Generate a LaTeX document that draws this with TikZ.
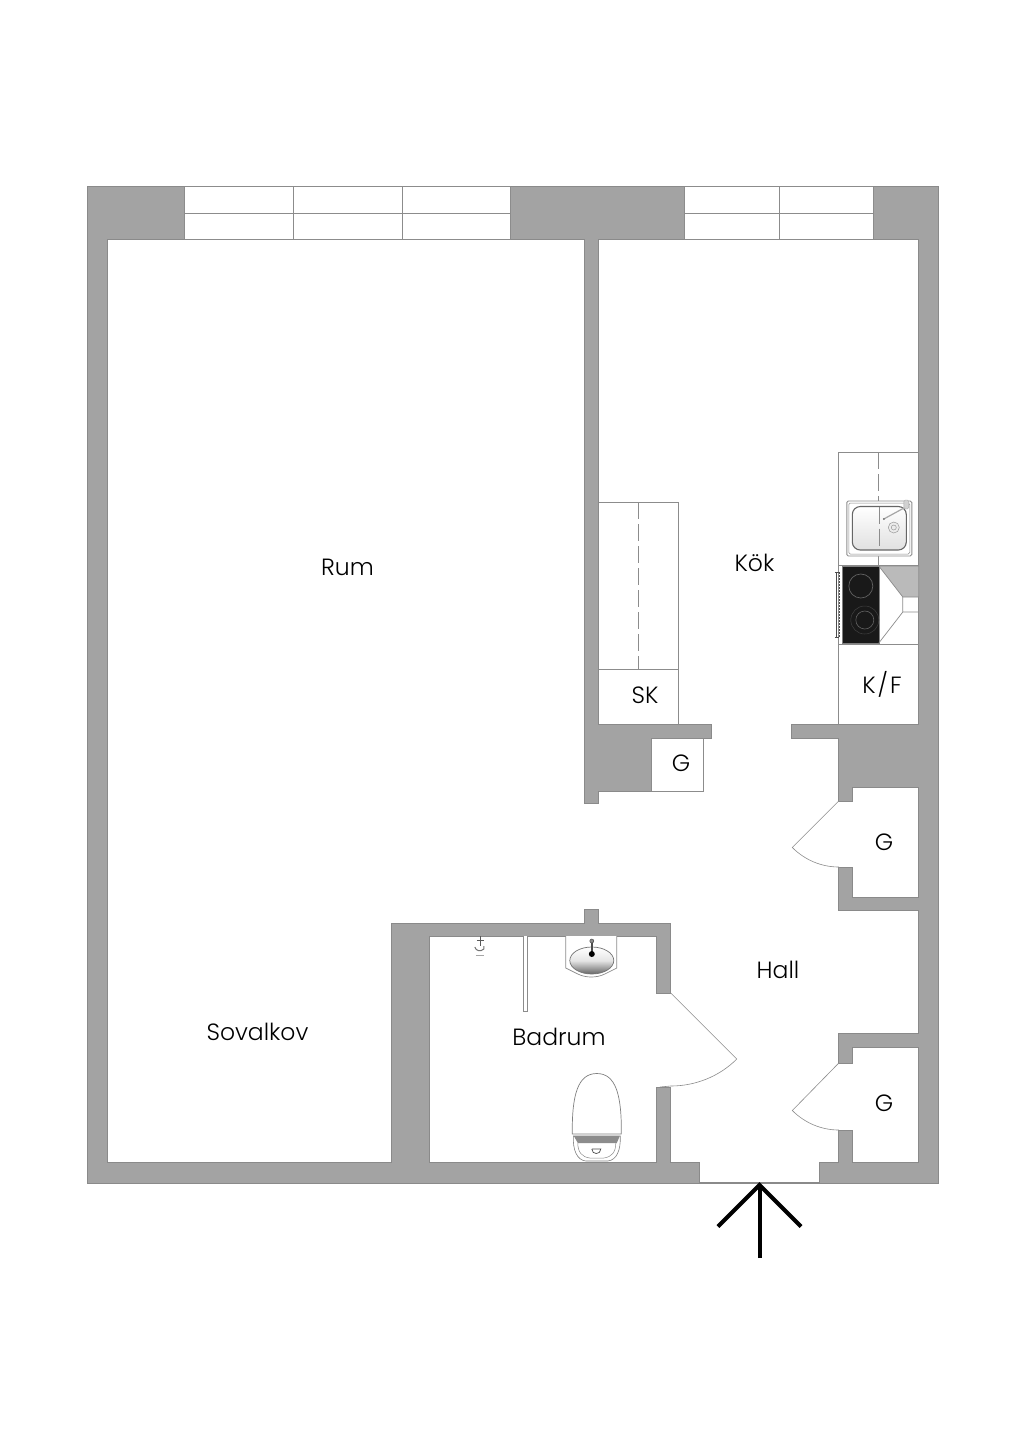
\documentclass[tikz,border=0pt]{standalone}
\usepackage{fontspec}
\setmainfont{Poppins}[UprightFont=* Light]
\definecolor{wallc}{HTML}{A3A3A3}
\definecolor{edgec}{HTML}{8A8A8A}
\definecolor{linec}{HTML}{8C8C8C}
\tikzset{
  wallfill/.style={fill=wallc,draw=edgec,line width=.7pt,line join=miter},
  thinline/.style={draw=linec,line width=.7pt},
  dashline/.style={draw=linec,line width=.8pt,dash pattern=on 17pt off 5pt},
  roomlabel/.style={font=\fontsize{23.5}{24}\selectfont,text=black,inner sep=0pt},
  entry/.style={draw=black,line width=4pt,line cap=butt,line join=miter},
}
\begin{document}
\begin{tikzpicture}[x=1pt,y=-1pt]
\useasboundingbox (0,0) rectangle (1024,1449);
\fill[white] (0,0) rectangle (1024,1449);
\begin{scope}[xshift=-0.2pt]
% walls
\path[wallfill] (88,186) rectangle (939,1183);
% interior
\path[fill=white,draw=edgec,line width=.7pt]
 (108,239) -- (585,239) -- (585,803) -- (599,803) -- (599,791) -- (652,791) -- (652,738) -- (712,738) -- (712,724) -- (599,724) -- (599,239) -- (919,239) -- (919,724) -- (792,724) -- (792,738) -- (839,738) -- (839,801) -- (853,801) -- (853,787) -- (919,787) -- (919,897) -- (853,897) -- (853,867) -- (839,867) -- (839,910) -- (919,910) -- (919,1033) -- (839,1033) -- (839,1063) -- (853,1063) -- (853,1047) -- (919,1047) -- (919,1162) -- (853,1162) -- (853,1130) -- (839,1130) -- (839,1162) -- (820,1162) -- (820,1182.5) -- (700,1182.5) -- (700,1162) -- (671,1162) -- (671,1087) -- (657,1087) -- (657,1162) -- (430,1162) -- (430,936) -- (657,936) -- (657,993) -- (671,993) -- (671,923) -- (599,923) -- (599,909) -- (585,909) -- (585,923) -- (392,923) -- (392,1162) -- (108,1162) -- cycle;
% windows
\path[thinline,fill=white] (185,186) rectangle (511,239);
\path[thinline] (185,213) -- (511,213) (294,186) -- (294,239) (403,186) -- (403,239);
\path[thinline,fill=white] (685,186) rectangle (874,239);
\path[thinline] (685,213) -- (874,213) (780,186) -- (780,239);
% wardrobe
\path[thinline] (599,502) -- (679,502) -- (679,724) (599,669) -- (679,669);
\path[dashline] (639,502) -- (639,669);
% closet
\path[thinline,fill=white] (652,738) rectangle (704,791);
% kitchen counter
\path[thinline] (919,452) -- (839,452) -- (839,724) (839,565.5) -- (919,565.5) (839,644) -- (919,644);
\path[dashline] (879,452) -- (879,501);
\path[thinline] (879,556) -- (879,566);
% sink
\path[draw=linec,line width=.9pt,fill=white,rounded corners=1.5pt] (847,501) rectangle (912,556);
\path[draw=linec,line width=.5pt,rounded corners=1.5pt] (849,503) rectangle (910,554);
\path[draw=black!60,line width=1.1pt,rounded corners=8pt,top color=white,bottom color=black!12] (852.5,506.5) rectangle (906.5,550);
\path[dashline,line width=.6pt] (879,506.5) -- (879,550);
\path[draw=black!35,line width=1.2pt] (884,519) -- (906,507);
\path[fill=black!18,draw=black!35,line width=.4pt,rounded corners=1.5pt] (904,500) rectangle (909,509);
\fill[black!60] (884,519) circle (1pt);
\path[draw=black!40,line width=.5pt,fill=black!8] (894,527.5) circle (5.5pt);
\path[draw=black!40,line width=.5pt] (894,527.5) circle (2.5pt);
% stove
\path[fill=black!90,draw=black!50,line width=.5pt] (842,566) rectangle (879,643);
\path[draw=black!62,line width=.7pt] (861,586) circle (12pt);
\path[draw=black!62,line width=.6pt] (865,620) circle (9pt);
\path[draw=black!75,line width=.5pt] (865,620) circle (14pt);
\path[draw=black!70,line width=.6pt] (835,572) -- (839,572) (835,637) -- (839,637) (836,572) -- (836,637);
\path[draw=black!70,line width=.5pt,dash pattern=on 2pt off 1pt] (839,572) -- (839,637);
% hood
\path[fill=black!27,draw=linec,line width=.7pt] (879,566) -- (919,566) -- (919,597) -- (903,597) -- cycle;
\path[thinline] (903,597) -- (903,612) -- (879,643) (903,612) -- (919,612);
% basin
\path[thinline,fill=white] (566,936) -- (566,968) -- (578,974) .. controls (586,978) and (597,978) .. (605,974) -- (617,968) -- (617,936);
\path[draw=black!55,line width=.7pt,top color=white,bottom color=black!60,middle color=black!10] (592,960.5) ellipse (22pt and 13.5pt);
\path[draw=black!70,line width=1.6pt] (592,941) -- (592,953);
\path[fill=black!45,draw=black!70,line width=.5pt] (592,941) circle (2pt);
\fill[black] (592,954) circle (3pt);
% shower rail
\path[draw=black!45,line width=.7pt,fill=white] (523.5,936) -- (523.5,1011) -- (528,1011) -- (528,936);
% shower head
\path[draw=black!65,line width=.7pt] (481,936) -- (481,946) (477,940) -- (484,940);
\path[draw=black!55,line width=1pt] (475,947) .. controls (476,951) and (481,952) .. (484,949) -- (484,946);
\path[draw=black!35,line width=.8pt] (476,955.5) -- (484,955.5);
% toilet
\path[draw=black!50,line width=.7pt,fill=white] (572.5,1134) .. controls (572,1095) and (578,1073.5) .. (597,1073.5) .. controls (616,1073.5) and (622,1095) .. (621.5,1134) -- cycle;
\path[draw=black!50,line width=.6pt,fill=white] (573.5,1136) .. controls (573,1150) and (577,1160) .. (586,1161) -- (608,1161) .. controls (617,1160) and (621,1150) .. (620.5,1136) -- cycle;
\path[fill=black!45] (574,1136) -- (620,1136) -- (617,1143) -- (578,1143) -- cycle;
\path[draw=black!45,line width=.5pt] (578,1143) .. controls (578,1152) and (582,1157) .. (590,1158) -- (604,1158) .. controls (612,1157) and (616,1152) .. (616,1143);
\path[draw=black!70,line width=.7pt] (592,1149) -- (601,1149) .. controls (601,1155) and (592,1155) .. (592,1149);
% doors
\path[thinline,line width=.6pt] (671,993) -- (737,1059) .. controls (719.6,1076.4) and (695.7,1086) .. (671,1086) -- (660,1087);
\path[thinline,line width=.6pt] (839,801) -- (792.5,847.5) .. controls (804.9,859.9) and (821.5,867) .. (839,867);
\path[thinline,line width=.6pt] (839,1063) -- (792.5,1110.5) .. controls (804.9,1122.9) and (821.5,1130) .. (839,1130);
\end{scope}
% entrance arrow
\coordinate (tip) at (759.5,1185);
\coordinate (tail) at (759.5,1258);
\coordinate (hl) at (718,1226.5);
\coordinate (hr) at (801,1226.5);
\draw[entry] (tail) -- (tip);
\draw[entry] (hl) -- (tip) -- (hr);
% labels
\node[roomlabel] (rum) at (347.5,567) {Rum};
\node[roomlabel] (kok) at (754.5,563) {Kök};
\node[roomlabel] (sk) at (645,695) {SK};
\node[roomlabel] (kf) at (882,684) {K\kern2pt/\kern2pt F};
\node[roomlabel] (g1) at (681,763) {G};
\node[roomlabel] (g2) at (884,842) {G};
\node[roomlabel] (hall) at (778,970) {Hall};
\node[roomlabel] (badrum) at (559,1037) {Badrum};
\node[roomlabel] (sovalkov) at (257.5,1032) {Sovalkov};
\node[roomlabel] (g3) at (884,1103.5) {G};
\end{tikzpicture}
\end{document}
